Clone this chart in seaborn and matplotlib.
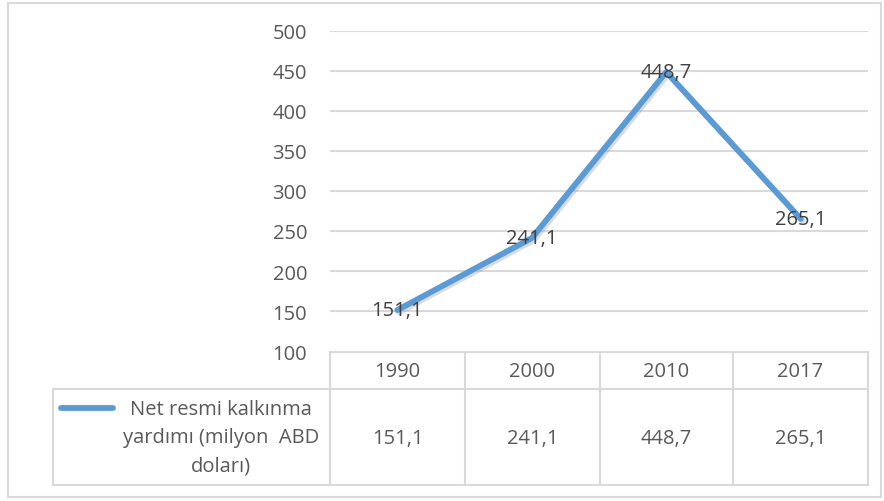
import matplotlib
matplotlib.use("Agg")
import matplotlib.pyplot as plt
import seaborn as sns
import pandas as pd
import matplotlib.patheffects as pe
from matplotlib.lines import Line2D
from matplotlib.patches import Rectangle

years = ["1990", "2000", "2010", "2017"]
values = [151.1, 241.1, 448.7, 265.1]
value_labels = ["151,1", "241,1", "448,7", "265,1"]
series_name = "Net resmi kalkınma\nyardımı (milyon  ABD\ndoları)"
yticks = [100, 150, 200, 250, 300, 350, 400, 450, 500]

sns.set_theme(style="white")
plt.rcParams['font.family'] = ['Open Sans', 'DejaVu Sans']

W, H = 884, 502
fig = plt.figure(figsize=(W / 100, H / 100), dpi=100)
fig.patch.set_facecolor("white")

TXT = "#595959"
GRID = "#D9D9D9"
BLUE = "#5B9BD5"
FS = 14.5

def fx(px):
    return px / W

def fy(py):
    return 1 - py / H

# main plot area
left, right, top, bottom = 330, 868, 32, 352
ax = fig.add_axes([fx(left), fy(bottom), fx(right) - fx(left), fy(top) - fy(bottom)])
df = pd.DataFrame({"year": years, "value": values, "pos": range(len(years))})
sns.lineplot(data=df, x="pos", y="value", ax=ax, color=BLUE, linewidth=4.2,
             solid_capstyle="round", solid_joinstyle="round", zorder=3)
for ln in ax.lines:
    ln.set_path_effects([pe.SimpleLineShadow(offset=(1.5, -1.5), shadow_color="#9a9a9a", alpha=0.35),
                         pe.Normal()])
ax.set_xlim(-0.5, len(years) - 0.5)
ax.set_ylim(yticks[0], yticks[-1])
ax.set_yticks(yticks)
ax.set_yticklabels([str(t) for t in yticks], fontsize=FS, color=TXT)
ax.set_xticks([])
ax.set_xlabel("")
ax.set_ylabel("")
ax.tick_params(axis="y", length=0, pad=16.5)
for s in ax.spines.values():
    s.set_visible(False)
for t in yticks[1:]:
    ax.axhline(t, color=GRID, linewidth=1.5, zorder=1)
for i, (v, lab) in enumerate(zip(values, value_labels)):
    ax.text(i, v, lab, ha="center", va="center", fontsize=FS, color="#404040", zorder=4)

# overlay for table and frame
ov = fig.add_axes([0, 0, 1, 1], zorder=-1)
ov.set_xlim(0, W)
ov.set_ylim(H, 0)
ov.axis("off")

# outer frame
ov.add_patch(Rectangle((8, 4), 873, 494, fill=False, edgecolor=GRID, linewidth=1.5))

cols = [330, 465, 600, 733, 868]
hdr_top, hdr_bot, row_bot = 352.5, 390, 486
tab_left = 53
lw = 1.5
ov.plot([cols[0], cols[-1]], [hdr_top, hdr_top], color=GRID, lw=lw)
ov.plot([tab_left, cols[-1]], [hdr_bot, hdr_bot], color=GRID, lw=lw)
ov.plot([tab_left, cols[-1]], [row_bot, row_bot], color=GRID, lw=lw)
for c in cols:
    ov.plot([c, c], [hdr_top, row_bot], color=GRID, lw=lw)
ov.plot([tab_left, tab_left], [hdr_bot, row_bot], color=GRID, lw=lw)

for i, (yr, lab) in enumerate(zip(years, value_labels)):
    cx = (cols[i] + cols[i + 1]) / 2
    ov.text(cx, (hdr_top + hdr_bot) / 2 + 1, yr, ha="center", va="center", fontsize=FS, color=TXT)
    ov.text(cx, (hdr_bot + row_bot) / 2 + 1, lab, ha="center", va="center", fontsize=FS, color=TXT)

# legend key and series name
ov.add_line(Line2D([61, 113], [409, 409], color=BLUE, linewidth=4.2, solid_capstyle="round"))
for k, line in enumerate(series_name.split("\n")):
    ov.text(221, 410 + 28.5 * k, line, ha="center", va="center", fontsize=FS, color=TXT)

fig.savefig("out.png", dpi=100)
